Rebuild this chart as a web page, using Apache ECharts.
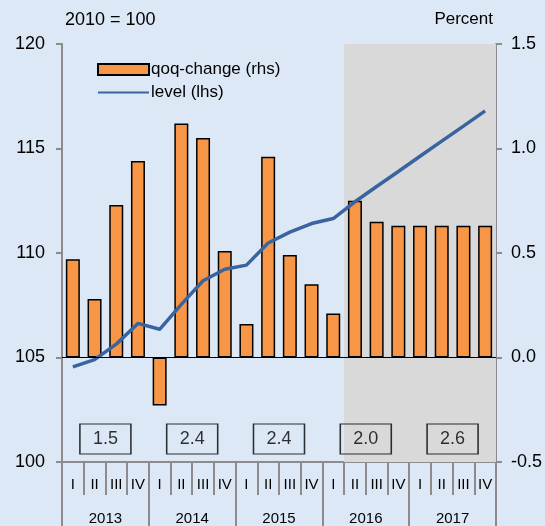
<!DOCTYPE html>
<html>
<head>
<meta charset="utf-8">
<script src="https://cdn.jsdelivr.net/npm/echarts@6/dist/echarts.min.js"></script>
<style>
  html, body { margin: 0; padding: 0; background: #dce8f6; }
  #chart { width: 545px; height: 526px; }
</style>
</head>
<body>
<div id="chart"></div>
<script>
  // quarters and years on the x axis
  var quarters = ['I','II','III','IV','I','II','III','IV','I','II','III','IV','I','II','III','IV','I','II','III','IV'];
  var years = ['2013','2014','2015','2016','2017'];
  // qoq-change, percent (rhs)
  var qoqChange = [0.47, 0.28, 0.73, 0.94, -0.23, 1.12, 1.05, 0.51, 0.16, 0.96, 0.49, 0.35, 0.21, 0.75, 0.65, 0.63, 0.63, 0.63, 0.63, 0.63];
  // level, 2010 = 100 (lhs)
  var level = [104.55, 104.9, 105.64, 106.63, 106.35, 107.54, 108.67, 109.22, 109.42, 110.48, 111.0, 111.41, 111.65, 112.45, 113.18, 113.9, 114.63, 115.35, 116.07, 116.8];
  // annual growth shown in boxes
  var annualGrowth = [1.5, 2.4, 2.4, 2.0, 2.6];
  // projection starts at quarter index 13 (2016 II)
  var projectionStart = 13;

  var font = 'Liberation Sans, Arial, sans-serif';
  var axisGray = '#8c8c8c';

  var chart = echarts.init(document.getElementById('chart'));

  var boxData = annualGrowth.map(function (v, i) {
    return { value: [i * 4 + 2, 101.1], label: { formatter: v.toFixed(1) } };
  });

  var option = {
    backgroundColor: '#dce8f6',
    textStyle: { fontFamily: font, color: '#000' },
    animation: false,
    graphic: [
      { type: 'text', left: 65, top: 11, style: { text: '2010 = 100', font: '18px ' + font, fill: '#000' } },
      { type: 'text', right: 52, top: 11, style: { text: 'Percent', font: '17px ' + font, fill: '#000' } }
    ],
    legend: {
      data: [
        { name: 'qoq-change (rhs)', icon: 'rect' },
        { name: 'level (lhs)', itemStyle: { opacity: 0 } }
      ],
      orient: 'vertical',
      left: 92,
      top: 56,
      itemWidth: 51,
      itemHeight: 11,
      itemGap: 6,
      textStyle: { fontSize: 17, color: '#000', fontFamily: font, padding: [0, 0, 0, -3] }
    },
    grid: { left: 62, right: 48, top: 44, height: 418 },
    xAxis: [{
      type: 'category',
      data: quarters,
      axisLine: { onZero: false, lineStyle: { color: axisGray, width: 2 } },
      axisTick: { show: true, interval: 0, length: 33, lineStyle: { color: axisGray, width: 2 } },
      axisLabel: { interval: 0, margin: 15, fontSize: 15, color: '#000', fontFamily: font }
    }, {
      type: 'category',
      data: years,
      position: 'bottom',
      axisLine: { show: false, onZero: false },
      axisTick: { show: true, interval: 0, length: 64, lineStyle: { color: axisGray, width: 2 } },
      axisLabel: { interval: 0, margin: 49, fontSize: 15, color: '#000', fontFamily: font }
    }, {
      type: 'value',
      min: 0,
      max: 20,
      show: false
    }],
    yAxis: [{
      type: 'value',
      min: 100,
      max: 120,
      interval: 5,
      axisLine: { show: true, onZero: false, lineStyle: { color: axisGray, width: 2 } },
      axisTick: { show: true, length: 6, lineStyle: { color: axisGray, width: 2 } },
      splitLine: { show: false },
      axisLabel: { fontSize: 18, color: '#000', margin: 17, fontFamily: font }
    }, {
      type: 'value',
      min: -0.5,
      max: 1.5,
      interval: 0.5,
      position: 'right',
      axisLine: { show: true, onZero: false, lineStyle: { color: axisGray, width: 2 } },
      axisTick: { show: true, length: 6, lineStyle: { color: axisGray, width: 2 } },
      splitLine: { show: false },
      axisLabel: { fontSize: 18, color: '#000', margin: 15, fontFamily: font,
        formatter: function (v) { return v.toFixed(1); } }
    }],
    series: [{
      name: 'projection',
      type: 'scatter',
      xAxisIndex: 2,
      yAxisIndex: 0,
      data: [],
      silent: true,
      z: 0,
      markArea: {
        silent: true,
        itemStyle: { color: '#d9d9d9' },
        data: [[{ xAxis: projectionStart }, { xAxis: 20 }]]
      }
    }, {
      name: 'qoq-change (rhs)',
      type: 'bar',
      yAxisIndex: 1,
      data: qoqChange,
      barWidth: 14,
      itemStyle: { color: '#f79646', borderColor: '#000', borderWidth: 1.5 },
      z: 2,
      markLine: {
        silent: true,
        symbol: 'none',
        label: { show: false },
        lineStyle: { color: '#000', width: 1, type: 'solid' },
        data: [{ yAxis: 0 }]
      }
    }, {
      name: 'level (lhs)',
      type: 'line',
      yAxisIndex: 0,
      data: level,
      symbol: 'none',
      lineStyle: { color: '#3a64a0', width: 3.5 },
      itemStyle: { color: '#3a64a0' },
      z: 3
    }, {
      name: 'annual',
      type: 'scatter',
      xAxisIndex: 2,
      yAxisIndex: 0,
      data: boxData,
      symbol: 'rect',
      symbolSize: [51, 30],
      itemStyle: { color: 'rgba(0,0,0,0)', borderColor: '#000', borderWidth: 1.2 },
      label: { show: true, position: 'inside', fontSize: 18, color: '#000', fontFamily: font },
      z: 4
    }]
  };

  chart.setOption(option);
</script>
</body>
</html>
